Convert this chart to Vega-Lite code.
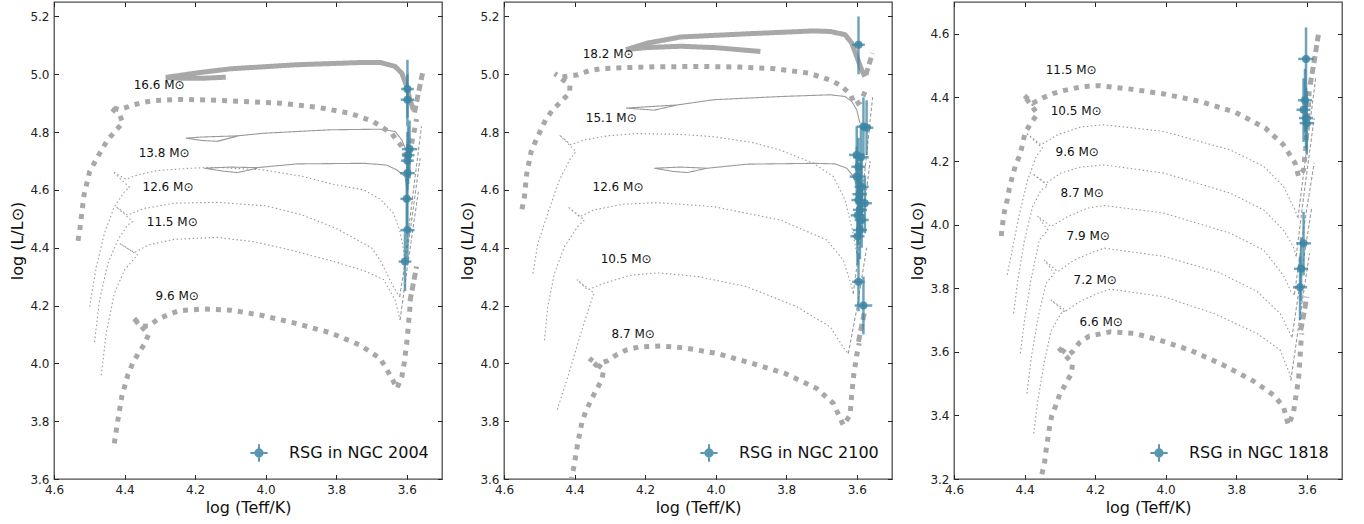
{
"$schema":"https://vega.github.io/schema/vega-lite/v6.json",
"padding":{"left":9,"top":0,"right":0,"bottom":0},
"datasets":{
"tracks":[
{"cl":"2004","seg":"16.6ms","ph":"ms","bold":1,"T":4.532,"L":4.424},{"cl":"2004","seg":"16.6ms","ph":"ms","bold":1,"T":4.527,"L":4.461},{"cl":"2004","seg":"16.6ms","ph":"ms","bold":1,"T":4.515,"L":4.582},{"cl":"2004","seg":"16.6ms","ph":"ms","bold":1,"T":4.499,"L":4.663},{"cl":"2004","seg":"16.6ms","ph":"ms","bold":1,"T":4.476,"L":4.715},{"cl":"2004","seg":"16.6ms","ph":"ms","bold":1,"T":4.449,"L":4.771},{"cl":"2004","seg":"16.6ms","ph":"ms","bold":1,"T":4.427,"L":4.802},{"cl":"2004","seg":"16.6ms","ph":"ms","bold":1,"T":4.405,"L":4.833},{"cl":"2004","seg":"16.6ms","ph":"ms","bold":1,"T":4.414,"L":4.86},{"cl":"2004","seg":"16.6ms","ph":"ms","bold":1,"T":4.441,"L":4.886},{"cl":"2004","seg":"16.6ms","ph":"ms","bold":1,"T":4.414,"L":4.877},{"cl":"2004","seg":"16.6ms","ph":"ms","bold":1,"T":4.382,"L":4.891},{"cl":"2004","seg":"16.6ms","ph":"ms","bold":1,"T":4.351,"L":4.902},{"cl":"2004","seg":"16.6ms","ph":"ms","bold":1,"T":4.316,"L":4.909},{"cl":"2004","seg":"16.6ms","ph":"ms","bold":1,"T":4.25,"L":4.913},{"cl":"2004","seg":"16.6ms","ph":"ms","bold":1,"T":4.184,"L":4.912},{"cl":"2004","seg":"16.6ms","ph":"ms","bold":1,"T":4.099,"L":4.908},{"cl":"2004","seg":"16.6ms","ph":"ms","bold":1,"T":3.958,"L":4.9},{"cl":"2004","seg":"16.6ms","ph":"ms","bold":1,"T":3.854,"L":4.886},{"cl":"2004","seg":"16.6ms","ph":"ms","bold":1,"T":3.76,"L":4.865},{"cl":"2004","seg":"16.6ms","ph":"ms","bold":1,"T":3.694,"L":4.836},{"cl":"2004","seg":"16.6ms","ph":"ms","bold":1,"T":3.642,"L":4.794},{"cl":"2004","seg":"16.6ms","ph":"ms","bold":1,"T":3.614,"L":4.75},{"cl":"2004","seg":"16.6ms","ph":"ms","bold":1,"T":3.6,"L":4.71},{"cl":"2004","seg":"16.6ms","ph":"ms","bold":1,"T":3.588,"L":4.75},{"cl":"2004","seg":"16.6ms","ph":"ms","bold":1,"T":3.579,"L":4.802},{"cl":"2004","seg":"16.6ms","ph":"ms","bold":1,"T":3.572,"L":4.845},
{"cl":"2004","seg":"16.6rsg","ph":"rsg","bold":1,"T":3.578,"L":4.868},{"cl":"2004","seg":"16.6rsg","ph":"rsg","bold":1,"T":3.566,"L":4.94},{"cl":"2004","seg":"16.6rsg","ph":"rsg","bold":1,"T":3.555,"L":5.005},
{"cl":"2004","seg":"16.6loop","ph":"loop","bold":1,"T":3.581,"L":4.877},{"cl":"2004","seg":"16.6loop","ph":"loop","bold":1,"T":3.591,"L":4.912},{"cl":"2004","seg":"16.6loop","ph":"loop","bold":1,"T":3.6,"L":4.958},{"cl":"2004","seg":"16.6loop","ph":"loop","bold":1,"T":3.614,"L":5.004},{"cl":"2004","seg":"16.6loop","ph":"loop","bold":1,"T":3.633,"L":5.027},{"cl":"2004","seg":"16.6loop","ph":"loop","bold":1,"T":3.675,"L":5.041},{"cl":"2004","seg":"16.6loop","ph":"loop","bold":1,"T":3.722,"L":5.041},{"cl":"2004","seg":"16.6loop","ph":"loop","bold":1,"T":3.911,"L":5.033},{"cl":"2004","seg":"16.6loop","ph":"loop","bold":1,"T":4.099,"L":5.019},{"cl":"2004","seg":"16.6loop","ph":"loop","bold":1,"T":4.193,"L":5.005},{"cl":"2004","seg":"16.6loop","ph":"loop","bold":1,"T":4.25,"L":4.995},{"cl":"2004","seg":"16.6loop","ph":"loop","bold":1,"T":4.283,"L":4.989},{"cl":"2004","seg":"16.6loop","ph":"loop","bold":1,"T":4.24,"L":4.986},{"cl":"2004","seg":"16.6loop","ph":"loop","bold":1,"T":4.18,"L":4.986},{"cl":"2004","seg":"16.6loop","ph":"loop","bold":1,"T":4.113,"L":4.99},
{"cl":"2004","seg":"13.8ms","ph":"ms","bold":0,"T":4.499,"L":4.196},{"cl":"2004","seg":"13.8ms","ph":"ms","bold":0,"T":4.48,"L":4.334},{"cl":"2004","seg":"13.8ms","ph":"ms","bold":0,"T":4.457,"L":4.45},{"cl":"2004","seg":"13.8ms","ph":"ms","bold":0,"T":4.429,"L":4.542},{"cl":"2004","seg":"13.8ms","ph":"ms","bold":0,"T":4.4,"L":4.594},{"cl":"2004","seg":"13.8ms","ph":"ms","bold":0,"T":4.386,"L":4.609},{"cl":"2004","seg":"13.8ms","ph":"ms","bold":0,"T":4.433,"L":4.663},{"cl":"2004","seg":"13.8ms","ph":"ms","bold":0,"T":4.396,"L":4.637},{"cl":"2004","seg":"13.8ms","ph":"ms","bold":0,"T":4.363,"L":4.652},{"cl":"2004","seg":"13.8ms","ph":"ms","bold":0,"T":4.306,"L":4.667},{"cl":"2004","seg":"13.8ms","ph":"ms","bold":0,"T":4.212,"L":4.675},{"cl":"2004","seg":"13.8ms","ph":"ms","bold":0,"T":4.137,"L":4.678},{"cl":"2004","seg":"13.8ms","ph":"ms","bold":0,"T":4.005,"L":4.669},{"cl":"2004","seg":"13.8ms","ph":"ms","bold":0,"T":3.9,"L":4.648},{"cl":"2004","seg":"13.8ms","ph":"ms","bold":0,"T":3.81,"L":4.62},{"cl":"2004","seg":"13.8ms","ph":"ms","bold":0,"T":3.722,"L":4.6},{"cl":"2004","seg":"13.8ms","ph":"ms","bold":0,"T":3.675,"L":4.568},{"cl":"2004","seg":"13.8ms","ph":"ms","bold":0,"T":3.638,"L":4.52},{"cl":"2004","seg":"13.8ms","ph":"ms","bold":0,"T":3.62,"L":4.46},{"cl":"2004","seg":"13.8ms","ph":"ms","bold":0,"T":3.61,"L":4.4},{"cl":"2004","seg":"13.8ms","ph":"ms","bold":0,"T":3.605,"L":4.36},
{"cl":"2004","seg":"13.8rsg","ph":"rsg","bold":0,"T":3.605,"L":4.36},{"cl":"2004","seg":"13.8rsg","ph":"rsg","bold":0,"T":3.585,"L":4.56},{"cl":"2004","seg":"13.8rsg","ph":"rsg","bold":0,"T":3.558,"L":4.82},
{"cl":"2004","seg":"13.8loop","ph":"loop","bold":0,"T":3.595,"L":4.7},{"cl":"2004","seg":"13.8loop","ph":"loop","bold":0,"T":3.602,"L":4.738},{"cl":"2004","seg":"13.8loop","ph":"loop","bold":0,"T":3.614,"L":4.773},{"cl":"2004","seg":"13.8loop","ph":"loop","bold":0,"T":3.633,"L":4.802},{"cl":"2004","seg":"13.8loop","ph":"loop","bold":0,"T":3.675,"L":4.81},{"cl":"2004","seg":"13.8loop","ph":"loop","bold":0,"T":3.817,"L":4.808},{"cl":"2004","seg":"13.8loop","ph":"loop","bold":0,"T":4.005,"L":4.796},{"cl":"2004","seg":"13.8loop","ph":"loop","bold":0,"T":4.08,"L":4.787},{"cl":"2004","seg":"13.8loop","ph":"loop","bold":0,"T":4.18,"L":4.783},{"cl":"2004","seg":"13.8loop","ph":"loop","bold":0,"T":4.226,"L":4.779},{"cl":"2004","seg":"13.8loop","ph":"loop","bold":0,"T":4.18,"L":4.771},{"cl":"2004","seg":"13.8loop","ph":"loop","bold":0,"T":4.137,"L":4.768},{"cl":"2004","seg":"13.8loop","ph":"loop","bold":0,"T":4.08,"L":4.786},
{"cl":"2004","seg":"12.6ms","ph":"ms","bold":0,"T":4.485,"L":4.074},{"cl":"2004","seg":"12.6ms","ph":"ms","bold":0,"T":4.471,"L":4.219},{"cl":"2004","seg":"12.6ms","ph":"ms","bold":0,"T":4.447,"L":4.346},{"cl":"2004","seg":"12.6ms","ph":"ms","bold":0,"T":4.419,"L":4.427},{"cl":"2004","seg":"12.6ms","ph":"ms","bold":0,"T":4.391,"L":4.479},{"cl":"2004","seg":"12.6ms","ph":"ms","bold":0,"T":4.377,"L":4.49},{"cl":"2004","seg":"12.6ms","ph":"ms","bold":0,"T":4.424,"L":4.542},{"cl":"2004","seg":"12.6ms","ph":"ms","bold":0,"T":4.391,"L":4.513},{"cl":"2004","seg":"12.6ms","ph":"ms","bold":0,"T":4.344,"L":4.536},{"cl":"2004","seg":"12.6ms","ph":"ms","bold":0,"T":4.259,"L":4.554},{"cl":"2004","seg":"12.6ms","ph":"ms","bold":0,"T":4.137,"L":4.557},{"cl":"2004","seg":"12.6ms","ph":"ms","bold":0,"T":4.0,"L":4.545},{"cl":"2004","seg":"12.6ms","ph":"ms","bold":0,"T":3.9,"L":4.515},{"cl":"2004","seg":"12.6ms","ph":"ms","bold":0,"T":3.8,"L":4.467},{"cl":"2004","seg":"12.6ms","ph":"ms","bold":0,"T":3.7,"L":4.4},{"cl":"2004","seg":"12.6ms","ph":"ms","bold":0,"T":3.675,"L":4.357},{"cl":"2004","seg":"12.6ms","ph":"ms","bold":0,"T":3.638,"L":4.265},{"cl":"2004","seg":"12.6ms","ph":"ms","bold":0,"T":3.62,"L":4.23},
{"cl":"2004","seg":"12.6rsg","ph":"rsg","bold":0,"T":3.62,"L":4.23},{"cl":"2004","seg":"12.6rsg","ph":"rsg","bold":0,"T":3.59,"L":4.46},{"cl":"2004","seg":"12.6rsg","ph":"rsg","bold":0,"T":3.562,"L":4.71},
{"cl":"2004","seg":"12.6loop","ph":"loop","bold":0,"T":3.6,"L":4.61},{"cl":"2004","seg":"12.6loop","ph":"loop","bold":0,"T":3.605,"L":4.646},{"cl":"2004","seg":"12.6loop","ph":"loop","bold":0,"T":3.628,"L":4.669},{"cl":"2004","seg":"12.6loop","ph":"loop","bold":0,"T":3.657,"L":4.686},{"cl":"2004","seg":"12.6loop","ph":"loop","bold":0,"T":3.722,"L":4.692},{"cl":"2004","seg":"12.6loop","ph":"loop","bold":0,"T":3.911,"L":4.69},{"cl":"2004","seg":"12.6loop","ph":"loop","bold":0,"T":4.024,"L":4.677},{"cl":"2004","seg":"12.6loop","ph":"loop","bold":0,"T":4.1,"L":4.679},{"cl":"2004","seg":"12.6loop","ph":"loop","bold":0,"T":4.174,"L":4.675},{"cl":"2004","seg":"12.6loop","ph":"loop","bold":0,"T":4.12,"L":4.665},{"cl":"2004","seg":"12.6loop","ph":"loop","bold":0,"T":4.08,"L":4.66},{"cl":"2004","seg":"12.6loop","ph":"loop","bold":0,"T":4.024,"L":4.675},
{"cl":"2004","seg":"11.5ms","ph":"ms","bold":0,"T":4.466,"L":3.959},{"cl":"2004","seg":"11.5ms","ph":"ms","bold":0,"T":4.452,"L":4.104},{"cl":"2004","seg":"11.5ms","ph":"ms","bold":0,"T":4.429,"L":4.242},{"cl":"2004","seg":"11.5ms","ph":"ms","bold":0,"T":4.4,"L":4.323},{"cl":"2004","seg":"11.5ms","ph":"ms","bold":0,"T":4.372,"L":4.363},{"cl":"2004","seg":"11.5ms","ph":"ms","bold":0,"T":4.363,"L":4.375},{"cl":"2004","seg":"11.5ms","ph":"ms","bold":0,"T":4.414,"L":4.415},{"cl":"2004","seg":"11.5ms","ph":"ms","bold":0,"T":4.372,"L":4.383},{"cl":"2004","seg":"11.5ms","ph":"ms","bold":0,"T":4.334,"L":4.409},{"cl":"2004","seg":"11.5ms","ph":"ms","bold":0,"T":4.259,"L":4.429},{"cl":"2004","seg":"11.5ms","ph":"ms","bold":0,"T":4.137,"L":4.436},{"cl":"2004","seg":"11.5ms","ph":"ms","bold":0,"T":4.03,"L":4.42},{"cl":"2004","seg":"11.5ms","ph":"ms","bold":0,"T":3.93,"L":4.392},{"cl":"2004","seg":"11.5ms","ph":"ms","bold":0,"T":3.8,"L":4.35},{"cl":"2004","seg":"11.5ms","ph":"ms","bold":0,"T":3.72,"L":4.32},{"cl":"2004","seg":"11.5ms","ph":"ms","bold":0,"T":3.666,"L":4.29},{"cl":"2004","seg":"11.5ms","ph":"ms","bold":0,"T":3.633,"L":4.219},{"cl":"2004","seg":"11.5ms","ph":"ms","bold":0,"T":3.619,"L":4.15},
{"cl":"2004","seg":"11.5rsg","ph":"rsg","bold":0,"T":3.619,"L":4.15},{"cl":"2004","seg":"11.5rsg","ph":"rsg","bold":0,"T":3.595,"L":4.36},{"cl":"2004","seg":"11.5rsg","ph":"rsg","bold":0,"T":3.567,"L":4.594},
{"cl":"2004","seg":"9.6ms","ph":"ms","bold":1,"T":4.429,"L":3.723},{"cl":"2004","seg":"9.6ms","ph":"ms","bold":1,"T":4.419,"L":3.803},{"cl":"2004","seg":"9.6ms","ph":"ms","bold":1,"T":4.408,"L":3.884},{"cl":"2004","seg":"9.6ms","ph":"ms","bold":1,"T":4.391,"L":3.959},{"cl":"2004","seg":"9.6ms","ph":"ms","bold":1,"T":4.377,"L":4.0},{"cl":"2004","seg":"9.6ms","ph":"ms","bold":1,"T":4.361,"L":4.034},{"cl":"2004","seg":"9.6ms","ph":"ms","bold":1,"T":4.344,"L":4.066},{"cl":"2004","seg":"9.6ms","ph":"ms","bold":1,"T":4.332,"L":4.1},{"cl":"2004","seg":"9.6ms","ph":"ms","bold":1,"T":4.377,"L":4.161},{"cl":"2004","seg":"9.6ms","ph":"ms","bold":1,"T":4.355,"L":4.128},{"cl":"2004","seg":"9.6ms","ph":"ms","bold":1,"T":4.332,"L":4.129},{"cl":"2004","seg":"9.6ms","ph":"ms","bold":1,"T":4.306,"L":4.152},{"cl":"2004","seg":"9.6ms","ph":"ms","bold":1,"T":4.273,"L":4.17},{"cl":"2004","seg":"9.6ms","ph":"ms","bold":1,"T":4.245,"L":4.182},{"cl":"2004","seg":"9.6ms","ph":"ms","bold":1,"T":4.179,"L":4.188},{"cl":"2004","seg":"9.6ms","ph":"ms","bold":1,"T":4.099,"L":4.184},{"cl":"2004","seg":"9.6ms","ph":"ms","bold":1,"T":4.014,"L":4.167},{"cl":"2004","seg":"9.6ms","ph":"ms","bold":1,"T":3.92,"L":4.14},{"cl":"2004","seg":"9.6ms","ph":"ms","bold":1,"T":3.817,"L":4.106},{"cl":"2004","seg":"9.6ms","ph":"ms","bold":1,"T":3.732,"L":4.063},{"cl":"2004","seg":"9.6ms","ph":"ms","bold":1,"T":3.675,"L":4.017},{"cl":"2004","seg":"9.6ms","ph":"ms","bold":1,"T":3.642,"L":3.948},{"cl":"2004","seg":"9.6ms","ph":"ms","bold":1,"T":3.628,"L":3.913},{"cl":"2004","seg":"9.6ms","ph":"ms","bold":1,"T":3.614,"L":3.953},{"cl":"2004","seg":"9.6ms","ph":"ms","bold":1,"T":3.608,"L":3.994},{"cl":"2004","seg":"9.6ms","ph":"ms","bold":1,"T":3.6,"L":4.069},{"cl":"2004","seg":"9.6ms","ph":"ms","bold":1,"T":3.594,"L":4.15},{"cl":"2004","seg":"9.6ms","ph":"ms","bold":1,"T":3.589,"L":4.219},
{"cl":"2004","seg":"9.6rsg","ph":"rsg","bold":1,"T":3.591,"L":4.215},{"cl":"2004","seg":"9.6rsg","ph":"rsg","bold":1,"T":3.572,"L":4.335},
{"cl":"2100","seg":"18.2ms","ph":"ms","bold":1,"T":4.549,"L":4.533},{"cl":"2100","seg":"18.2ms","ph":"ms","bold":1,"T":4.542,"L":4.577},{"cl":"2100","seg":"18.2ms","ph":"ms","bold":1,"T":4.536,"L":4.652},{"cl":"2100","seg":"18.2ms","ph":"ms","bold":1,"T":4.523,"L":4.733},{"cl":"2100","seg":"18.2ms","ph":"ms","bold":1,"T":4.509,"L":4.773},{"cl":"2100","seg":"18.2ms","ph":"ms","bold":1,"T":4.481,"L":4.845},{"cl":"2100","seg":"18.2ms","ph":"ms","bold":1,"T":4.462,"L":4.877},{"cl":"2100","seg":"18.2ms","ph":"ms","bold":1,"T":4.438,"L":4.906},{"cl":"2100","seg":"18.2ms","ph":"ms","bold":1,"T":4.414,"L":4.935},{"cl":"2100","seg":"18.2ms","ph":"ms","bold":1,"T":4.413,"L":4.963},{"cl":"2100","seg":"18.2ms","ph":"ms","bold":1,"T":4.456,"L":5.002},{"cl":"2100","seg":"18.2ms","ph":"ms","bold":1,"T":4.438,"L":4.99},{"cl":"2100","seg":"18.2ms","ph":"ms","bold":1,"T":4.391,"L":4.998},{"cl":"2100","seg":"18.2ms","ph":"ms","bold":1,"T":4.358,"L":5.013},{"cl":"2100","seg":"18.2ms","ph":"ms","bold":1,"T":4.325,"L":5.019},{"cl":"2100","seg":"18.2ms","ph":"ms","bold":1,"T":4.259,"L":5.023},{"cl":"2100","seg":"18.2ms","ph":"ms","bold":1,"T":4.165,"L":5.026},{"cl":"2100","seg":"18.2ms","ph":"ms","bold":1,"T":4.033,"L":5.027},{"cl":"2100","seg":"18.2ms","ph":"ms","bold":1,"T":3.93,"L":5.025},{"cl":"2100","seg":"18.2ms","ph":"ms","bold":1,"T":3.831,"L":5.019},{"cl":"2100","seg":"18.2ms","ph":"ms","bold":1,"T":3.736,"L":5.004},{"cl":"2100","seg":"18.2ms","ph":"ms","bold":1,"T":3.671,"L":4.978},{"cl":"2100","seg":"18.2ms","ph":"ms","bold":1,"T":3.642,"L":4.958},{"cl":"2100","seg":"18.2ms","ph":"ms","bold":1,"T":3.617,"L":4.929},{"cl":"2100","seg":"18.2ms","ph":"ms","bold":1,"T":3.605,"L":4.894},{"cl":"2100","seg":"18.2ms","ph":"ms","bold":1,"T":3.59,"L":4.905},{"cl":"2100","seg":"18.2ms","ph":"ms","bold":1,"T":3.58,"L":4.93},{"cl":"2100","seg":"18.2ms","ph":"ms","bold":1,"T":3.572,"L":4.952},
{"cl":"2100","seg":"18.2rsg","ph":"rsg","bold":1,"T":3.574,"L":4.998},{"cl":"2100","seg":"18.2rsg","ph":"rsg","bold":1,"T":3.565,"L":5.035},{"cl":"2100","seg":"18.2rsg","ph":"rsg","bold":1,"T":3.555,"L":5.073},
{"cl":"2100","seg":"18.2loop","ph":"loop","bold":1,"T":3.577,"L":4.992},{"cl":"2100","seg":"18.2loop","ph":"loop","bold":1,"T":3.586,"L":5.015},{"cl":"2100","seg":"18.2loop","ph":"loop","bold":1,"T":3.6,"L":5.061},{"cl":"2100","seg":"18.2loop","ph":"loop","bold":1,"T":3.614,"L":5.108},{"cl":"2100","seg":"18.2loop","ph":"loop","bold":1,"T":3.633,"L":5.137},{"cl":"2100","seg":"18.2loop","ph":"loop","bold":1,"T":3.675,"L":5.148},{"cl":"2100","seg":"18.2loop","ph":"loop","bold":1,"T":3.722,"L":5.15},{"cl":"2100","seg":"18.2loop","ph":"loop","bold":1,"T":3.911,"L":5.14},{"cl":"2100","seg":"18.2loop","ph":"loop","bold":1,"T":4.099,"L":5.129},{"cl":"2100","seg":"18.2loop","ph":"loop","bold":1,"T":4.193,"L":5.108},{"cl":"2100","seg":"18.2loop","ph":"loop","bold":1,"T":4.254,"L":5.085},{"cl":"2100","seg":"18.2loop","ph":"loop","bold":1,"T":4.2,"L":5.092},{"cl":"2100","seg":"18.2loop","ph":"loop","bold":1,"T":4.099,"L":5.097},{"cl":"2100","seg":"18.2loop","ph":"loop","bold":1,"T":4.0,"L":5.092},{"cl":"2100","seg":"18.2loop","ph":"loop","bold":1,"T":3.873,"L":5.079},
{"cl":"2100","seg":"15.1ms","ph":"ms","bold":0,"T":4.518,"L":4.311},{"cl":"2100","seg":"15.1ms","ph":"ms","bold":0,"T":4.504,"L":4.415},{"cl":"2100","seg":"15.1ms","ph":"ms","bold":0,"T":4.476,"L":4.519},{"cl":"2100","seg":"15.1ms","ph":"ms","bold":0,"T":4.443,"L":4.634},{"cl":"2100","seg":"15.1ms","ph":"ms","bold":0,"T":4.414,"L":4.704},{"cl":"2100","seg":"15.1ms","ph":"ms","bold":0,"T":4.396,"L":4.733},{"cl":"2100","seg":"15.1ms","ph":"ms","bold":0,"T":4.443,"L":4.79},{"cl":"2100","seg":"15.1ms","ph":"ms","bold":0,"T":4.41,"L":4.756},{"cl":"2100","seg":"15.1ms","ph":"ms","bold":0,"T":4.372,"L":4.773},{"cl":"2100","seg":"15.1ms","ph":"ms","bold":0,"T":4.306,"L":4.787},{"cl":"2100","seg":"15.1ms","ph":"ms","bold":0,"T":4.221,"L":4.795},{"cl":"2100","seg":"15.1ms","ph":"ms","bold":0,"T":4.1,"L":4.792},{"cl":"2100","seg":"15.1ms","ph":"ms","bold":0,"T":4.005,"L":4.784},{"cl":"2100","seg":"15.1ms","ph":"ms","bold":0,"T":3.9,"L":4.765},{"cl":"2100","seg":"15.1ms","ph":"ms","bold":0,"T":3.817,"L":4.738},{"cl":"2100","seg":"15.1ms","ph":"ms","bold":0,"T":3.722,"L":4.692},{"cl":"2100","seg":"15.1ms","ph":"ms","bold":0,"T":3.666,"L":4.646},{"cl":"2100","seg":"15.1ms","ph":"ms","bold":0,"T":3.633,"L":4.565},{"cl":"2100","seg":"15.1ms","ph":"ms","bold":0,"T":3.612,"L":4.46},{"cl":"2100","seg":"15.1ms","ph":"ms","bold":0,"T":3.6,"L":4.38},
{"cl":"2100","seg":"15.1rsg","ph":"rsg","bold":0,"T":3.6,"L":4.38},{"cl":"2100","seg":"15.1rsg","ph":"rsg","bold":0,"T":3.58,"L":4.63},{"cl":"2100","seg":"15.1rsg","ph":"rsg","bold":0,"T":3.555,"L":4.92},
{"cl":"2100","seg":"15.1loop","ph":"loop","bold":0,"T":3.591,"L":4.831},{"cl":"2100","seg":"15.1loop","ph":"loop","bold":0,"T":3.6,"L":4.877},{"cl":"2100","seg":"15.1loop","ph":"loop","bold":0,"T":3.614,"L":4.906},{"cl":"2100","seg":"15.1loop","ph":"loop","bold":0,"T":3.633,"L":4.923},{"cl":"2100","seg":"15.1loop","ph":"loop","bold":0,"T":3.675,"L":4.929},{"cl":"2100","seg":"15.1loop","ph":"loop","bold":0,"T":3.817,"L":4.923},{"cl":"2100","seg":"15.1loop","ph":"loop","bold":0,"T":4.005,"L":4.912},{"cl":"2100","seg":"15.1loop","ph":"loop","bold":0,"T":4.108,"L":4.894},{"cl":"2100","seg":"15.1loop","ph":"loop","bold":0,"T":4.2,"L":4.887},{"cl":"2100","seg":"15.1loop","ph":"loop","bold":0,"T":4.254,"L":4.883},{"cl":"2100","seg":"15.1loop","ph":"loop","bold":0,"T":4.174,"L":4.876},{"cl":"2100","seg":"15.1loop","ph":"loop","bold":0,"T":4.108,"L":4.894},
{"cl":"2100","seg":"12.6ms","ph":"ms","bold":0,"T":4.485,"L":4.08},{"cl":"2100","seg":"12.6ms","ph":"ms","bold":0,"T":4.476,"L":4.196},{"cl":"2100","seg":"12.6ms","ph":"ms","bold":0,"T":4.457,"L":4.311},{"cl":"2100","seg":"12.6ms","ph":"ms","bold":0,"T":4.429,"L":4.403},{"cl":"2100","seg":"12.6ms","ph":"ms","bold":0,"T":4.391,"L":4.473},{"cl":"2100","seg":"12.6ms","ph":"ms","bold":0,"T":4.372,"L":4.496},{"cl":"2100","seg":"12.6ms","ph":"ms","bold":0,"T":4.419,"L":4.542},{"cl":"2100","seg":"12.6ms","ph":"ms","bold":0,"T":4.386,"L":4.507},{"cl":"2100","seg":"12.6ms","ph":"ms","bold":0,"T":4.344,"L":4.531},{"cl":"2100","seg":"12.6ms","ph":"ms","bold":0,"T":4.259,"L":4.551},{"cl":"2100","seg":"12.6ms","ph":"ms","bold":0,"T":4.165,"L":4.556},{"cl":"2100","seg":"12.6ms","ph":"ms","bold":0,"T":4.005,"L":4.542},{"cl":"2100","seg":"12.6ms","ph":"ms","bold":0,"T":3.817,"L":4.496},{"cl":"2100","seg":"12.6ms","ph":"ms","bold":0,"T":3.685,"L":4.427},{"cl":"2100","seg":"12.6ms","ph":"ms","bold":0,"T":3.638,"L":4.357},{"cl":"2100","seg":"12.6ms","ph":"ms","bold":0,"T":3.614,"L":4.265},{"cl":"2100","seg":"12.6ms","ph":"ms","bold":0,"T":3.61,"L":4.24},
{"cl":"2100","seg":"12.6rsg","ph":"rsg","bold":0,"T":3.61,"L":4.24},{"cl":"2100","seg":"12.6rsg","ph":"rsg","bold":0,"T":3.585,"L":4.47},{"cl":"2100","seg":"12.6rsg","ph":"rsg","bold":0,"T":3.562,"L":4.7},
{"cl":"2100","seg":"12.6loop","ph":"loop","bold":0,"T":3.6,"L":4.611},{"cl":"2100","seg":"12.6loop","ph":"loop","bold":0,"T":3.609,"L":4.646},{"cl":"2100","seg":"12.6loop","ph":"loop","bold":0,"T":3.628,"L":4.675},{"cl":"2100","seg":"12.6loop","ph":"loop","bold":0,"T":3.661,"L":4.69},{"cl":"2100","seg":"12.6loop","ph":"loop","bold":0,"T":3.722,"L":4.692},{"cl":"2100","seg":"12.6loop","ph":"loop","bold":0,"T":3.911,"L":4.689},{"cl":"2100","seg":"12.6loop","ph":"loop","bold":0,"T":4.024,"L":4.675},{"cl":"2100","seg":"12.6loop","ph":"loop","bold":0,"T":4.1,"L":4.679},{"cl":"2100","seg":"12.6loop","ph":"loop","bold":0,"T":4.174,"L":4.675},{"cl":"2100","seg":"12.6loop","ph":"loop","bold":0,"T":4.12,"L":4.664},{"cl":"2100","seg":"12.6loop","ph":"loop","bold":0,"T":4.08,"L":4.66},{"cl":"2100","seg":"12.6loop","ph":"loop","bold":0,"T":4.024,"L":4.675},
{"cl":"2100","seg":"10.5ms","ph":"ms","bold":0,"T":4.449,"L":3.84},{"cl":"2100","seg":"10.5ms","ph":"ms","bold":0,"T":4.419,"L":3.953},{"cl":"2100","seg":"10.5ms","ph":"ms","bold":0,"T":4.382,"L":4.104},{"cl":"2100","seg":"10.5ms","ph":"ms","bold":0,"T":4.349,"L":4.23},{"cl":"2100","seg":"10.5ms","ph":"ms","bold":0,"T":4.344,"L":4.242},{"cl":"2100","seg":"10.5ms","ph":"ms","bold":0,"T":4.393,"L":4.29},{"cl":"2100","seg":"10.5ms","ph":"ms","bold":0,"T":4.363,"L":4.254},{"cl":"2100","seg":"10.5ms","ph":"ms","bold":0,"T":4.316,"L":4.277},{"cl":"2100","seg":"10.5ms","ph":"ms","bold":0,"T":4.241,"L":4.305},{"cl":"2100","seg":"10.5ms","ph":"ms","bold":0,"T":4.165,"L":4.313},{"cl":"2100","seg":"10.5ms","ph":"ms","bold":0,"T":4.05,"L":4.3},{"cl":"2100","seg":"10.5ms","ph":"ms","bold":0,"T":3.911,"L":4.265},{"cl":"2100","seg":"10.5ms","ph":"ms","bold":0,"T":3.77,"L":4.196},{"cl":"2100","seg":"10.5ms","ph":"ms","bold":0,"T":3.675,"L":4.126},{"cl":"2100","seg":"10.5ms","ph":"ms","bold":0,"T":3.633,"L":4.046},{"cl":"2100","seg":"10.5ms","ph":"ms","bold":0,"T":3.624,"L":4.034},
{"cl":"2100","seg":"10.5rsg","ph":"rsg","bold":0,"T":3.624,"L":4.034},{"cl":"2100","seg":"10.5rsg","ph":"rsg","bold":0,"T":3.598,"L":4.2},{"cl":"2100","seg":"10.5rsg","ph":"rsg","bold":0,"T":3.572,"L":4.4},
{"cl":"2100","seg":"8.7ms","ph":"ms","bold":1,"T":4.41,"L":3.59},{"cl":"2100","seg":"8.7ms","ph":"ms","bold":1,"T":4.402,"L":3.642},{"cl":"2100","seg":"8.7ms","ph":"ms","bold":1,"T":4.391,"L":3.723},{"cl":"2100","seg":"8.7ms","ph":"ms","bold":1,"T":4.379,"L":3.797},{"cl":"2100","seg":"8.7ms","ph":"ms","bold":1,"T":4.368,"L":3.835},{"cl":"2100","seg":"8.7ms","ph":"ms","bold":1,"T":4.353,"L":3.873},{"cl":"2100","seg":"8.7ms","ph":"ms","bold":1,"T":4.339,"L":3.907},{"cl":"2100","seg":"8.7ms","ph":"ms","bold":1,"T":4.323,"L":3.942},{"cl":"2100","seg":"8.7ms","ph":"ms","bold":1,"T":4.317,"L":3.979},{"cl":"2100","seg":"8.7ms","ph":"ms","bold":1,"T":4.358,"L":4.017},{"cl":"2100","seg":"8.7ms","ph":"ms","bold":1,"T":4.339,"L":3.994},{"cl":"2100","seg":"8.7ms","ph":"ms","bold":1,"T":4.305,"L":4.01},{"cl":"2100","seg":"8.7ms","ph":"ms","bold":1,"T":4.283,"L":4.028},{"cl":"2100","seg":"8.7ms","ph":"ms","bold":1,"T":4.254,"L":4.046},{"cl":"2100","seg":"8.7ms","ph":"ms","bold":1,"T":4.217,"L":4.057},{"cl":"2100","seg":"8.7ms","ph":"ms","bold":1,"T":4.156,"L":4.06},{"cl":"2100","seg":"8.7ms","ph":"ms","bold":1,"T":4.09,"L":4.054},{"cl":"2100","seg":"8.7ms","ph":"ms","bold":1,"T":3.995,"L":4.034},{"cl":"2100","seg":"8.7ms","ph":"ms","bold":1,"T":3.897,"L":4.0},{"cl":"2100","seg":"8.7ms","ph":"ms","bold":1,"T":3.803,"L":3.965},{"cl":"2100","seg":"8.7ms","ph":"ms","bold":1,"T":3.713,"L":3.913},{"cl":"2100","seg":"8.7ms","ph":"ms","bold":1,"T":3.666,"L":3.861},{"cl":"2100","seg":"8.7ms","ph":"ms","bold":1,"T":3.638,"L":3.786},{"cl":"2100","seg":"8.7ms","ph":"ms","bold":1,"T":3.619,"L":3.821},{"cl":"2100","seg":"8.7ms","ph":"ms","bold":1,"T":3.614,"L":3.896},{"cl":"2100","seg":"8.7ms","ph":"ms","bold":1,"T":3.608,"L":3.965},{"cl":"2100","seg":"8.7ms","ph":"ms","bold":1,"T":3.6,"L":4.028},{"cl":"2100","seg":"8.7ms","ph":"ms","bold":1,"T":3.593,"L":4.07},
{"cl":"2100","seg":"8.7rsg","ph":"rsg","bold":1,"T":3.595,"L":4.075},{"cl":"2100","seg":"8.7rsg","ph":"rsg","bold":1,"T":3.577,"L":4.184},
{"cl":"1818","seg":"11.5ms","ph":"ms","bold":1,"T":4.466,"L":3.964},{"cl":"1818","seg":"11.5ms","ph":"ms","bold":1,"T":4.462,"L":4.004},{"cl":"1818","seg":"11.5ms","ph":"ms","bold":1,"T":4.457,"L":4.041},{"cl":"1818","seg":"11.5ms","ph":"ms","bold":1,"T":4.449,"L":4.078},{"cl":"1818","seg":"11.5ms","ph":"ms","bold":1,"T":4.443,"L":4.115},{"cl":"1818","seg":"11.5ms","ph":"ms","bold":1,"T":4.435,"L":4.149},{"cl":"1818","seg":"11.5ms","ph":"ms","bold":1,"T":4.426,"L":4.185},{"cl":"1818","seg":"11.5ms","ph":"ms","bold":1,"T":4.413,"L":4.22},{"cl":"1818","seg":"11.5ms","ph":"ms","bold":1,"T":4.405,"L":4.255},{"cl":"1818","seg":"11.5ms","ph":"ms","bold":1,"T":4.399,"L":4.288},{"cl":"1818","seg":"11.5ms","ph":"ms","bold":1,"T":4.382,"L":4.319},{"cl":"1818","seg":"11.5ms","ph":"ms","bold":1,"T":4.363,"L":4.348},{"cl":"1818","seg":"11.5ms","ph":"ms","bold":1,"T":4.403,"L":4.408},{"cl":"1818","seg":"11.5ms","ph":"ms","bold":1,"T":4.377,"L":4.382},{"cl":"1818","seg":"11.5ms","ph":"ms","bold":1,"T":4.349,"L":4.398},{"cl":"1818","seg":"11.5ms","ph":"ms","bold":1,"T":4.32,"L":4.412},{"cl":"1818","seg":"11.5ms","ph":"ms","bold":1,"T":4.287,"L":4.422},{"cl":"1818","seg":"11.5ms","ph":"ms","bold":1,"T":4.254,"L":4.43},{"cl":"1818","seg":"11.5ms","ph":"ms","bold":1,"T":4.221,"L":4.435},{"cl":"1818","seg":"11.5ms","ph":"ms","bold":1,"T":4.188,"L":4.437},{"cl":"1818","seg":"11.5ms","ph":"ms","bold":1,"T":4.099,"L":4.426},{"cl":"1818","seg":"11.5ms","ph":"ms","bold":1,"T":4.005,"L":4.411},{"cl":"1818","seg":"11.5ms","ph":"ms","bold":1,"T":3.901,"L":4.387},{"cl":"1818","seg":"11.5ms","ph":"ms","bold":1,"T":3.802,"L":4.353},{"cl":"1818","seg":"11.5ms","ph":"ms","bold":1,"T":3.718,"L":4.304},{"cl":"1818","seg":"11.5ms","ph":"ms","bold":1,"T":3.666,"L":4.251},{"cl":"1818","seg":"11.5ms","ph":"ms","bold":1,"T":3.633,"L":4.193},{"cl":"1818","seg":"11.5ms","ph":"ms","bold":1,"T":3.623,"L":4.151},{"cl":"1818","seg":"11.5ms","ph":"ms","bold":1,"T":3.609,"L":4.172},{"cl":"1818","seg":"11.5ms","ph":"ms","bold":1,"T":3.603,"L":4.24},{"cl":"1818","seg":"11.5ms","ph":"ms","bold":1,"T":3.598,"L":4.32},{"cl":"1818","seg":"11.5ms","ph":"ms","bold":1,"T":3.593,"L":4.42},
{"cl":"1818","seg":"11.5rsg","ph":"rsg","bold":1,"T":3.59,"L":4.44},{"cl":"1818","seg":"11.5rsg","ph":"rsg","bold":1,"T":3.578,"L":4.52},{"cl":"1818","seg":"11.5rsg","ph":"rsg","bold":1,"T":3.567,"L":4.597},
{"cl":"1818","seg":"10.5ms","ph":"ms","bold":0,"T":4.449,"L":3.842},{"cl":"1818","seg":"10.5ms","ph":"ms","bold":0,"T":4.433,"L":3.931},{"cl":"1818","seg":"10.5ms","ph":"ms","bold":0,"T":4.414,"L":4.036},{"cl":"1818","seg":"10.5ms","ph":"ms","bold":0,"T":4.391,"L":4.141},{"cl":"1818","seg":"10.5ms","ph":"ms","bold":0,"T":4.367,"L":4.214},{"cl":"1818","seg":"10.5ms","ph":"ms","bold":0,"T":4.349,"L":4.241},{"cl":"1818","seg":"10.5ms","ph":"ms","bold":0,"T":4.396,"L":4.288},{"cl":"1818","seg":"10.5ms","ph":"ms","bold":0,"T":4.353,"L":4.251},{"cl":"1818","seg":"10.5ms","ph":"ms","bold":0,"T":4.306,"L":4.283},{"cl":"1818","seg":"10.5ms","ph":"ms","bold":0,"T":4.24,"L":4.307},{"cl":"1818","seg":"10.5ms","ph":"ms","bold":0,"T":4.174,"L":4.314},{"cl":"1818","seg":"10.5ms","ph":"ms","bold":0,"T":4.005,"L":4.293},{"cl":"1818","seg":"10.5ms","ph":"ms","bold":0,"T":3.817,"L":4.235},{"cl":"1818","seg":"10.5ms","ph":"ms","bold":0,"T":3.722,"L":4.183},{"cl":"1818","seg":"10.5ms","ph":"ms","bold":0,"T":3.666,"L":4.12},{"cl":"1818","seg":"10.5ms","ph":"ms","bold":0,"T":3.633,"L":4.046},{"cl":"1818","seg":"10.5ms","ph":"ms","bold":0,"T":3.625,"L":4.02},
{"cl":"1818","seg":"10.5rsg","ph":"rsg","bold":0,"T":3.625,"L":4.02},{"cl":"1818","seg":"10.5rsg","ph":"rsg","bold":0,"T":3.6,"L":4.24},{"cl":"1818","seg":"10.5rsg","ph":"rsg","bold":0,"T":3.574,"L":4.466},
{"cl":"1818","seg":"9.6ms","ph":"ms","bold":0,"T":4.431,"L":3.721},{"cl":"1818","seg":"9.6ms","ph":"ms","bold":0,"T":4.419,"L":3.826},{"cl":"1818","seg":"9.6ms","ph":"ms","bold":0,"T":4.4,"L":3.952},{"cl":"1818","seg":"9.6ms","ph":"ms","bold":0,"T":4.377,"L":4.057},{"cl":"1818","seg":"9.6ms","ph":"ms","bold":0,"T":4.353,"L":4.109},{"cl":"1818","seg":"9.6ms","ph":"ms","bold":0,"T":4.334,"L":4.122},{"cl":"1818","seg":"9.6ms","ph":"ms","bold":0,"T":4.377,"L":4.16},{"cl":"1818","seg":"9.6ms","ph":"ms","bold":0,"T":4.339,"L":4.13},{"cl":"1818","seg":"9.6ms","ph":"ms","bold":0,"T":4.297,"L":4.162},{"cl":"1818","seg":"9.6ms","ph":"ms","bold":0,"T":4.24,"L":4.181},{"cl":"1818","seg":"9.6ms","ph":"ms","bold":0,"T":4.174,"L":4.188},{"cl":"1818","seg":"9.6ms","ph":"ms","bold":0,"T":4.005,"L":4.162},{"cl":"1818","seg":"9.6ms","ph":"ms","bold":0,"T":3.817,"L":4.099},{"cl":"1818","seg":"9.6ms","ph":"ms","bold":0,"T":3.722,"L":4.046},{"cl":"1818","seg":"9.6ms","ph":"ms","bold":0,"T":3.666,"L":3.983},{"cl":"1818","seg":"9.6ms","ph":"ms","bold":0,"T":3.638,"L":3.931},{"cl":"1818","seg":"9.6ms","ph":"ms","bold":0,"T":3.63,"L":3.9},
{"cl":"1818","seg":"9.6rsg","ph":"rsg","bold":0,"T":3.63,"L":3.9},{"cl":"1818","seg":"9.6rsg","ph":"rsg","bold":0,"T":3.605,"L":4.12},{"cl":"1818","seg":"9.6rsg","ph":"rsg","bold":0,"T":3.579,"L":4.335},
{"cl":"1818","seg":"8.7ms","ph":"ms","bold":0,"T":4.412,"L":3.595},{"cl":"1818","seg":"8.7ms","ph":"ms","bold":0,"T":4.4,"L":3.7},{"cl":"1818","seg":"8.7ms","ph":"ms","bold":0,"T":4.382,"L":3.826},{"cl":"1818","seg":"8.7ms","ph":"ms","bold":0,"T":4.358,"L":3.952},{"cl":"1818","seg":"8.7ms","ph":"ms","bold":0,"T":4.334,"L":3.983},{"cl":"1818","seg":"8.7ms","ph":"ms","bold":0,"T":4.363,"L":4.027},{"cl":"1818","seg":"8.7ms","ph":"ms","bold":0,"T":4.325,"L":3.994},{"cl":"1818","seg":"8.7ms","ph":"ms","bold":0,"T":4.278,"L":4.025},{"cl":"1818","seg":"8.7ms","ph":"ms","bold":0,"T":4.221,"L":4.052},{"cl":"1818","seg":"8.7ms","ph":"ms","bold":0,"T":4.174,"L":4.06},{"cl":"1818","seg":"8.7ms","ph":"ms","bold":0,"T":4.005,"L":4.036},{"cl":"1818","seg":"8.7ms","ph":"ms","bold":0,"T":3.817,"L":3.973},{"cl":"1818","seg":"8.7ms","ph":"ms","bold":0,"T":3.722,"L":3.92},{"cl":"1818","seg":"8.7ms","ph":"ms","bold":0,"T":3.666,"L":3.84},{"cl":"1818","seg":"8.7ms","ph":"ms","bold":0,"T":3.645,"L":3.79},{"cl":"1818","seg":"8.7ms","ph":"ms","bold":0,"T":3.635,"L":3.78},
{"cl":"1818","seg":"8.7rsg","ph":"rsg","bold":0,"T":3.635,"L":3.78},{"cl":"1818","seg":"8.7rsg","ph":"rsg","bold":0,"T":3.607,"L":4.0},{"cl":"1818","seg":"8.7rsg","ph":"rsg","bold":0,"T":3.579,"L":4.193},
{"cl":"1818","seg":"7.9ms","ph":"ms","bold":0,"T":4.393,"L":3.469},{"cl":"1818","seg":"7.9ms","ph":"ms","bold":0,"T":4.382,"L":3.574},{"cl":"1818","seg":"7.9ms","ph":"ms","bold":0,"T":4.363,"L":3.7},{"cl":"1818","seg":"7.9ms","ph":"ms","bold":0,"T":4.339,"L":3.815},{"cl":"1818","seg":"7.9ms","ph":"ms","bold":0,"T":4.316,"L":3.847},{"cl":"1818","seg":"7.9ms","ph":"ms","bold":0,"T":4.344,"L":3.889},{"cl":"1818","seg":"7.9ms","ph":"ms","bold":0,"T":4.306,"L":3.852},{"cl":"1818","seg":"7.9ms","ph":"ms","bold":0,"T":4.259,"L":3.889},{"cl":"1818","seg":"7.9ms","ph":"ms","bold":0,"T":4.203,"L":3.915},{"cl":"1818","seg":"7.9ms","ph":"ms","bold":0,"T":4.174,"L":3.926},{"cl":"1818","seg":"7.9ms","ph":"ms","bold":0,"T":4.005,"L":3.9},{"cl":"1818","seg":"7.9ms","ph":"ms","bold":0,"T":3.85,"L":3.85},{"cl":"1818","seg":"7.9ms","ph":"ms","bold":0,"T":3.741,"L":3.79},{"cl":"1818","seg":"7.9ms","ph":"ms","bold":0,"T":3.675,"L":3.72},{"cl":"1818","seg":"7.9ms","ph":"ms","bold":0,"T":3.648,"L":3.66},{"cl":"1818","seg":"7.9ms","ph":"ms","bold":0,"T":3.642,"L":3.645},
{"cl":"1818","seg":"7.9rsg","ph":"rsg","bold":0,"T":3.642,"L":3.645},{"cl":"1818","seg":"7.9rsg","ph":"rsg","bold":0,"T":3.613,"L":3.86},{"cl":"1818","seg":"7.9rsg","ph":"rsg","bold":0,"T":3.586,"L":4.052},
{"cl":"1818","seg":"7.2ms","ph":"ms","bold":0,"T":4.374,"L":3.343},{"cl":"1818","seg":"7.2ms","ph":"ms","bold":0,"T":4.362,"L":3.45},{"cl":"1818","seg":"7.2ms","ph":"ms","bold":0,"T":4.344,"L":3.567},{"cl":"1818","seg":"7.2ms","ph":"ms","bold":0,"T":4.325,"L":3.665},{"cl":"1818","seg":"7.2ms","ph":"ms","bold":0,"T":4.297,"L":3.72},{"cl":"1818","seg":"7.2ms","ph":"ms","bold":0,"T":4.283,"L":3.73},{"cl":"1818","seg":"7.2ms","ph":"ms","bold":0,"T":4.325,"L":3.763},{"cl":"1818","seg":"7.2ms","ph":"ms","bold":0,"T":4.287,"L":3.725},{"cl":"1818","seg":"7.2ms","ph":"ms","bold":0,"T":4.245,"L":3.757},{"cl":"1818","seg":"7.2ms","ph":"ms","bold":0,"T":4.193,"L":3.784},{"cl":"1818","seg":"7.2ms","ph":"ms","bold":0,"T":4.156,"L":3.797},{"cl":"1818","seg":"7.2ms","ph":"ms","bold":0,"T":4.005,"L":3.773},{"cl":"1818","seg":"7.2ms","ph":"ms","bold":0,"T":3.864,"L":3.721},{"cl":"1818","seg":"7.2ms","ph":"ms","bold":0,"T":3.741,"L":3.658},{"cl":"1818","seg":"7.2ms","ph":"ms","bold":0,"T":3.675,"L":3.605},{"cl":"1818","seg":"7.2ms","ph":"ms","bold":0,"T":3.648,"L":3.53},{"cl":"1818","seg":"7.2ms","ph":"ms","bold":0,"T":3.645,"L":3.51},
{"cl":"1818","seg":"7.2rsg","ph":"rsg","bold":0,"T":3.645,"L":3.51},{"cl":"1818","seg":"7.2rsg","ph":"rsg","bold":0,"T":3.618,"L":3.72},{"cl":"1818","seg":"7.2rsg","ph":"rsg","bold":0,"T":3.592,"L":3.91},
{"cl":"1818","seg":"6.6ms","ph":"ms","bold":1,"T":4.351,"L":3.215},{"cl":"1818","seg":"6.6ms","ph":"ms","bold":1,"T":4.343,"L":3.254},{"cl":"1818","seg":"6.6ms","ph":"ms","bold":1,"T":4.339,"L":3.29},{"cl":"1818","seg":"6.6ms","ph":"ms","bold":1,"T":4.334,"L":3.327},{"cl":"1818","seg":"6.6ms","ph":"ms","bold":1,"T":4.329,"L":3.364},{"cl":"1818","seg":"6.6ms","ph":"ms","bold":1,"T":4.323,"L":3.398},{"cl":"1818","seg":"6.6ms","ph":"ms","bold":1,"T":4.311,"L":3.432},{"cl":"1818","seg":"6.6ms","ph":"ms","bold":1,"T":4.3,"L":3.467},{"cl":"1818","seg":"6.6ms","ph":"ms","bold":1,"T":4.283,"L":3.5},{"cl":"1818","seg":"6.6ms","ph":"ms","bold":1,"T":4.267,"L":3.532},{"cl":"1818","seg":"6.6ms","ph":"ms","bold":1,"T":4.264,"L":3.563},{"cl":"1818","seg":"6.6ms","ph":"ms","bold":1,"T":4.306,"L":3.616},{"cl":"1818","seg":"6.6ms","ph":"ms","bold":1,"T":4.275,"L":3.59},{"cl":"1818","seg":"6.6ms","ph":"ms","bold":1,"T":4.264,"L":3.6},{"cl":"1818","seg":"6.6ms","ph":"ms","bold":1,"T":4.245,"L":3.628},{"cl":"1818","seg":"6.6ms","ph":"ms","bold":1,"T":4.217,"L":3.649},{"cl":"1818","seg":"6.6ms","ph":"ms","bold":1,"T":4.156,"L":3.663},{"cl":"1818","seg":"6.6ms","ph":"ms","bold":1,"T":4.09,"L":3.658},{"cl":"1818","seg":"6.6ms","ph":"ms","bold":1,"T":4.024,"L":3.639},{"cl":"1818","seg":"6.6ms","ph":"ms","bold":1,"T":3.93,"L":3.605},{"cl":"1818","seg":"6.6ms","ph":"ms","bold":1,"T":3.836,"L":3.558},{"cl":"1818","seg":"6.6ms","ph":"ms","bold":1,"T":3.751,"L":3.508},{"cl":"1818","seg":"6.6ms","ph":"ms","bold":1,"T":3.694,"L":3.464},{"cl":"1818","seg":"6.6ms","ph":"ms","bold":1,"T":3.666,"L":3.427},{"cl":"1818","seg":"6.6ms","ph":"ms","bold":1,"T":3.652,"L":3.369},{"cl":"1818","seg":"6.6ms","ph":"ms","bold":1,"T":3.638,"L":3.406},{"cl":"1818","seg":"6.6ms","ph":"ms","bold":1,"T":3.633,"L":3.443},{"cl":"1818","seg":"6.6ms","ph":"ms","bold":1,"T":3.628,"L":3.479},{"cl":"1818","seg":"6.6ms","ph":"ms","bold":1,"T":3.623,"L":3.516},{"cl":"1818","seg":"6.6ms","ph":"ms","bold":1,"T":3.619,"L":3.584},{"cl":"1818","seg":"6.6ms","ph":"ms","bold":1,"T":3.617,"L":3.621},{"cl":"1818","seg":"6.6ms","ph":"ms","bold":1,"T":3.614,"L":3.658},
{"cl":"1818","seg":"6.6rsg","ph":"rsg","bold":1,"T":3.617,"L":3.668},{"cl":"1818","seg":"6.6rsg","ph":"rsg","bold":1,"T":3.608,"L":3.72},{"cl":"1818","seg":"6.6rsg","ph":"rsg","bold":1,"T":3.6,"L":3.773}
],
"stars":[
{"cl":"2004","grp":"RSG in NGC 2004","T":3.598,"L":4.949,"Tlo":3.58,"Thi":3.616,"Llo":4.85,"Lhi":5.05},
{"cl":"2004","grp":"RSG in NGC 2004","T":3.598,"L":4.912,"Tlo":3.579,"Thi":3.617,"Llo":4.82,"Lhi":5.0},
{"cl":"2004","grp":"RSG in NGC 2004","T":3.592,"L":4.741,"Tlo":3.57,"Thi":3.614,"Llo":4.64,"Lhi":4.84},
{"cl":"2004","grp":"RSG in NGC 2004","T":3.596,"L":4.72,"Tlo":3.578,"Thi":3.614,"Llo":4.62,"Lhi":4.82},
{"cl":"2004","grp":"RSG in NGC 2004","T":3.598,"L":4.701,"Tlo":3.58,"Thi":3.616,"Llo":4.6,"Lhi":4.8},
{"cl":"2004","grp":"RSG in NGC 2004","T":3.598,"L":4.658,"Tlo":3.577,"Thi":3.619,"Llo":4.56,"Lhi":4.76},
{"cl":"2004","grp":"RSG in NGC 2004","T":3.6,"L":4.569,"Tlo":3.582,"Thi":3.618,"Llo":4.47,"Lhi":4.67},
{"cl":"2004","grp":"RSG in NGC 2004","T":3.598,"L":4.461,"Tlo":3.578,"Thi":3.618,"Llo":4.36,"Lhi":4.56},
{"cl":"2004","grp":"RSG in NGC 2004","T":3.605,"L":4.352,"Tlo":3.587,"Thi":3.623,"Llo":4.25,"Lhi":4.45},
{"cl":"2100","grp":"RSG in NGC 2100","T":3.595,"L":5.102,"Tlo":3.577,"Thi":3.613,"Llo":5.0,"Lhi":5.2},
{"cl":"2100","grp":"RSG in NGC 2100","T":3.581,"L":4.819,"Tlo":3.56,"Thi":3.6,"Llo":4.72,"Lhi":4.92},
{"cl":"2100","grp":"RSG in NGC 2100","T":3.572,"L":4.815,"Tlo":3.553,"Thi":3.591,"Llo":4.72,"Lhi":4.91},
{"cl":"2100","grp":"RSG in NGC 2100","T":3.6,"L":4.721,"Tlo":3.578,"Thi":3.622,"Llo":4.62,"Lhi":4.82},
{"cl":"2100","grp":"RSG in NGC 2100","T":3.588,"L":4.713,"Tlo":3.566,"Thi":3.61,"Llo":4.61,"Lhi":4.81},
{"cl":"2100","grp":"RSG in NGC 2100","T":3.595,"L":4.68,"Tlo":3.575,"Thi":3.615,"Llo":4.58,"Lhi":4.78},
{"cl":"2100","grp":"RSG in NGC 2100","T":3.6,"L":4.646,"Tlo":3.58,"Thi":3.62,"Llo":4.55,"Lhi":4.75},
{"cl":"2100","grp":"RSG in NGC 2100","T":3.586,"L":4.611,"Tlo":3.566,"Thi":3.606,"Llo":4.51,"Lhi":4.71},
{"cl":"2100","grp":"RSG in NGC 2100","T":3.592,"L":4.585,"Tlo":3.572,"Thi":3.612,"Llo":4.49,"Lhi":4.68},
{"cl":"2100","grp":"RSG in NGC 2100","T":3.595,"L":4.565,"Tlo":3.575,"Thi":3.615,"Llo":4.47,"Lhi":4.66},
{"cl":"2100","grp":"RSG in NGC 2100","T":3.577,"L":4.554,"Tlo":3.557,"Thi":3.597,"Llo":4.45,"Lhi":4.65},
{"cl":"2100","grp":"RSG in NGC 2100","T":3.591,"L":4.531,"Tlo":3.571,"Thi":3.611,"Llo":4.43,"Lhi":4.63},
{"cl":"2100","grp":"RSG in NGC 2100","T":3.597,"L":4.512,"Tlo":3.577,"Thi":3.617,"Llo":4.41,"Lhi":4.61},
{"cl":"2100","grp":"RSG in NGC 2100","T":3.586,"L":4.496,"Tlo":3.566,"Thi":3.606,"Llo":4.4,"Lhi":4.6},
{"cl":"2100","grp":"RSG in NGC 2100","T":3.591,"L":4.461,"Tlo":3.571,"Thi":3.611,"Llo":4.36,"Lhi":4.56},
{"cl":"2100","grp":"RSG in NGC 2100","T":3.598,"L":4.44,"Tlo":3.578,"Thi":3.618,"Llo":4.34,"Lhi":4.54},
{"cl":"2100","grp":"RSG in NGC 2100","T":3.595,"L":4.282,"Tlo":3.577,"Thi":3.613,"Llo":4.18,"Lhi":4.38},
{"cl":"2100","grp":"RSG in NGC 2100","T":3.581,"L":4.2,"Tlo":3.556,"Thi":3.606,"Llo":4.1,"Lhi":4.3},
{"cl":"1818","grp":"RSG in NGC 1818","T":3.602,"L":4.521,"Tlo":3.58,"Thi":3.624,"Llo":4.42,"Lhi":4.62},
{"cl":"1818","grp":"RSG in NGC 1818","T":3.605,"L":4.391,"Tlo":3.585,"Thi":3.625,"Llo":4.29,"Lhi":4.49},
{"cl":"1818","grp":"RSG in NGC 1818","T":3.609,"L":4.361,"Tlo":3.589,"Thi":3.629,"Llo":4.26,"Lhi":4.46},
{"cl":"1818","grp":"RSG in NGC 1818","T":3.602,"L":4.335,"Tlo":3.582,"Thi":3.622,"Llo":4.24,"Lhi":4.43},
{"cl":"1818","grp":"RSG in NGC 1818","T":3.6,"L":4.319,"Tlo":3.58,"Thi":3.62,"Llo":4.22,"Lhi":4.42},
{"cl":"1818","grp":"RSG in NGC 1818","T":3.609,"L":3.941,"Tlo":3.588,"Thi":3.63,"Llo":3.84,"Lhi":4.04},
{"cl":"1818","grp":"RSG in NGC 1818","T":3.616,"L":3.861,"Tlo":3.596,"Thi":3.636,"Llo":3.76,"Lhi":3.96},
{"cl":"1818","grp":"RSG in NGC 1818","T":3.619,"L":3.803,"Tlo":3.599,"Thi":3.639,"Llo":3.7,"Lhi":3.9}
],
"labels":[
{"cl":"2004","T":4.374,"L":4.963,"txt":"16.6 M\u2299"},{"cl":"2004","T":4.36,"L":4.728,"txt":"13.8 M\u2299"},{"cl":"2004","T":4.349,"L":4.61,"txt":"12.6 M\u2299"},{"cl":"2004","T":4.337,"L":4.489,"txt":"11.5 M\u2299"},{"cl":"2004","T":4.312,"L":4.232,"txt":"9.6 M\u2299"},
{"cl":"2100","T":4.377,"L":5.071,"txt":"18.2 M\u2299"},{"cl":"2100","T":4.368,"L":4.849,"txt":"15.1 M\u2299"},{"cl":"2100","T":4.349,"L":4.61,"txt":"12.6 M\u2299"},{"cl":"2100","T":4.326,"L":4.361,"txt":"10.5 M\u2299"},{"cl":"2100","T":4.295,"L":4.101,"txt":"8.7 M\u2299"},
{"cl":"1818","T":4.34,"L":4.487,"txt":"11.5 M\u2299"},{"cl":"1818","T":4.326,"L":4.358,"txt":"10.5 M\u2299"},{"cl":"1818","T":4.312,"L":4.229,"txt":"9.6 M\u2299"},{"cl":"1818","T":4.298,"L":4.099,"txt":"8.7 M\u2299"},{"cl":"1818","T":4.281,"L":3.964,"txt":"7.9 M\u2299"},{"cl":"1818","T":4.261,"L":3.825,"txt":"7.2 M\u2299"},{"cl":"1818","T":4.244,"L":3.693,"txt":"6.6 M\u2299"}
]
},
"spacing":62,
"bounds":"flush",
"resolve":{"scale":{"color":"independent"},"legend":{"color":"independent"}},
"hconcat":[
{"width":388,"height":477,
"resolve":{"scale":{"strokeDash":"independent"},"axis":{"x":"independent","y":"independent"}},
"layer":[
{"data":{"name":"tracks"},"transform":[{"filter":"datum.cl == '2004' && datum.bold == 0"}],
"mark":{"type":"line","color":"#9a9a9a","strokeWidth":1.1,"clip":true},
"encoding":{
"x":{"field":"T","type":"quantitative","scale":{"domain":[3.5,4.6],"reverse":true,"nice":false,"zero":false},"axis":{"orient":"bottom","values":[4.6,4.4,4.2,4.0,3.8,3.6],"format":".1f","title":"log (Teff/K)"}},
"y":{"field":"L","type":"quantitative","scale":{"domain":[3.6,5.25],"nice":false,"zero":false},"axis":{"orient":"left","values":[3.6,3.8,4.0,4.2,4.4,4.6,4.8,5.0,5.2],"format":".1f","title":"log (L/L\u2299)"}},
"detail":{"field":"seg"},"order":{"value":null},
"strokeDash":{"field":"ph","type":"nominal","scale":{"domain":["ms","rsg","loop"],"range":[[1.5,2.5],[3.5,2],[1,0]]},"legend":null}}},
{"data":{"name":"tracks"},"transform":[{"filter":"datum.cl == '2004' && datum.bold == 1"}],
"mark":{"type":"line","color":"#a8a8a8","strokeWidth":5,"clip":true,"strokeCap":"butt"},
"encoding":{
"x":{"field":"T","type":"quantitative","scale":{"domain":[3.5,4.6],"reverse":true,"nice":false,"zero":false},"axis":{"orient":"top","values":[4.6,4.4,4.2,4.0,3.8,3.6],"labels":false,"title":null}},
"y":{"field":"L","type":"quantitative","scale":{"domain":[3.6,5.25],"nice":false,"zero":false},"axis":{"orient":"right","values":[3.6,3.8,4.0,4.2,4.4,4.6,4.8,5.0,5.2],"labels":false,"title":null}},
"detail":{"field":"seg"},"order":{"value":null},
"strokeDash":{"field":"ph","type":"nominal","scale":{"domain":["ms","rsg","loop"],"range":[[5,6],[7,4],[1,0]]},"legend":null}}},
{"data":{"name":"labels"},"transform":[{"filter":"datum.cl == '2004'"}],
"mark":{"type":"text","align":"left","baseline":"middle","fontSize":12,"color":"#111"},
"encoding":{"x":{"field":"T","type":"quantitative","axis":null},"y":{"field":"L","type":"quantitative","axis":null},"text":{"field":"txt"}}},
{"data":{"name":"stars"},"transform":[{"filter":"datum.cl == '2004'"}],
"mark":{"type":"rule","color":"#3d85a3","strokeWidth":2.5,"opacity":0.75},
"encoding":{"x":{"field":"T","type":"quantitative","axis":null},"y":{"field":"Llo","type":"quantitative","axis":null},"y2":{"field":"Lhi"}}},
{"data":{"name":"stars"},"transform":[{"filter":"datum.cl == '2004'"}],
"mark":{"type":"rule","color":"#3d85a3","strokeWidth":2.5,"opacity":0.75},
"encoding":{"x":{"field":"Tlo","type":"quantitative","axis":null},"x2":{"field":"Thi"},"y":{"field":"L","type":"quantitative","axis":null}}},
{"data":{"name":"stars"},"transform":[{"filter":"datum.cl == '2004'"}],
"mark":{"type":"point","filled":true,"shape":"circle","size":65,"opacity":0.85},
"encoding":{"x":{"field":"T","type":"quantitative","axis":null},"y":{"field":"L","type":"quantitative","axis":null},
"color":{"field":"grp","type":"nominal","scale":{"range":["#3d85a3"]},"legend":{"orient":"bottom-right","title":null,"offset":13,"labelFontSize":16,"labelColor":"#111","labelOffset":20,"symbolType":"M-1,0H1M0,-1V1M0.42,0A0.42,0.42,0,1,1,-0.42,0A0.42,0.42,0,1,1,0.42,0","symbolSize":300,"symbolStrokeWidth":2,"symbolStrokeColor":"#3d85a3","symbolFillColor":"#3d85a3","symbolOpacity":0.85}}}}
]},
{"width":388,"height":477,
"resolve":{"scale":{"strokeDash":"independent"},"axis":{"x":"independent","y":"independent"}},
"layer":[
{"data":{"name":"tracks"},"transform":[{"filter":"datum.cl == '2100' && datum.bold == 0"}],
"mark":{"type":"line","color":"#9a9a9a","strokeWidth":1.1,"clip":true},
"encoding":{
"x":{"field":"T","type":"quantitative","scale":{"domain":[3.5,4.6],"reverse":true,"nice":false,"zero":false},"axis":{"orient":"bottom","values":[4.6,4.4,4.2,4.0,3.8,3.6],"format":".1f","title":"log (Teff/K)"}},
"y":{"field":"L","type":"quantitative","scale":{"domain":[3.6,5.25],"nice":false,"zero":false},"axis":{"orient":"left","values":[3.6,3.8,4.0,4.2,4.4,4.6,4.8,5.0,5.2],"format":".1f","title":"log (L/L\u2299)"}},
"detail":{"field":"seg"},"order":{"value":null},
"strokeDash":{"field":"ph","type":"nominal","scale":{"domain":["ms","rsg","loop"],"range":[[1.5,2.5],[3.5,2],[1,0]]},"legend":null}}},
{"data":{"name":"tracks"},"transform":[{"filter":"datum.cl == '2100' && datum.bold == 1"}],
"mark":{"type":"line","color":"#a8a8a8","strokeWidth":5,"clip":true,"strokeCap":"butt"},
"encoding":{
"x":{"field":"T","type":"quantitative","scale":{"domain":[3.5,4.6],"reverse":true,"nice":false,"zero":false},"axis":{"orient":"top","values":[4.6,4.4,4.2,4.0,3.8,3.6],"labels":false,"title":null}},
"y":{"field":"L","type":"quantitative","scale":{"domain":[3.6,5.25],"nice":false,"zero":false},"axis":{"orient":"right","values":[3.6,3.8,4.0,4.2,4.4,4.6,4.8,5.0,5.2],"labels":false,"title":null}},
"detail":{"field":"seg"},"order":{"value":null},
"strokeDash":{"field":"ph","type":"nominal","scale":{"domain":["ms","rsg","loop"],"range":[[5,6],[7,4],[1,0]]},"legend":null}}},
{"data":{"name":"labels"},"transform":[{"filter":"datum.cl == '2100'"}],
"mark":{"type":"text","align":"left","baseline":"middle","fontSize":12,"color":"#111"},
"encoding":{"x":{"field":"T","type":"quantitative","axis":null},"y":{"field":"L","type":"quantitative","axis":null},"text":{"field":"txt"}}},
{"data":{"name":"stars"},"transform":[{"filter":"datum.cl == '2100'"}],
"mark":{"type":"rule","color":"#3d85a3","strokeWidth":2.5,"opacity":0.75},
"encoding":{"x":{"field":"T","type":"quantitative","axis":null},"y":{"field":"Llo","type":"quantitative","axis":null},"y2":{"field":"Lhi"}}},
{"data":{"name":"stars"},"transform":[{"filter":"datum.cl == '2100'"}],
"mark":{"type":"rule","color":"#3d85a3","strokeWidth":2.5,"opacity":0.75},
"encoding":{"x":{"field":"Tlo","type":"quantitative","axis":null},"x2":{"field":"Thi"},"y":{"field":"L","type":"quantitative","axis":null}}},
{"data":{"name":"stars"},"transform":[{"filter":"datum.cl == '2100'"}],
"mark":{"type":"point","filled":true,"shape":"circle","size":65,"opacity":0.85},
"encoding":{"x":{"field":"T","type":"quantitative","axis":null},"y":{"field":"L","type":"quantitative","axis":null},
"color":{"field":"grp","type":"nominal","scale":{"range":["#3d85a3"]},"legend":{"orient":"bottom-right","title":null,"offset":13,"labelFontSize":16,"labelColor":"#111","labelOffset":20,"symbolType":"M-1,0H1M0,-1V1M0.42,0A0.42,0.42,0,1,1,-0.42,0A0.42,0.42,0,1,1,0.42,0","symbolSize":300,"symbolStrokeWidth":2,"symbolStrokeColor":"#3d85a3","symbolFillColor":"#3d85a3","symbolOpacity":0.85}}}}
]},
{"width":388,"height":477,
"resolve":{"scale":{"strokeDash":"independent"},"axis":{"x":"independent","y":"independent"}},
"layer":[
{"data":{"name":"tracks"},"transform":[{"filter":"datum.cl == '1818' && datum.bold == 0"}],
"mark":{"type":"line","color":"#9a9a9a","strokeWidth":1.1,"clip":true},
"encoding":{
"x":{"field":"T","type":"quantitative","scale":{"domain":[3.5,4.6],"reverse":true,"nice":false,"zero":false},"axis":{"orient":"bottom","values":[4.6,4.4,4.2,4.0,3.8,3.6],"format":".1f","title":"log (Teff/K)"}},
"y":{"field":"L","type":"quantitative","scale":{"domain":[3.2,4.7],"nice":false,"zero":false},"axis":{"orient":"left","values":[3.2,3.4,3.6,3.8,4.0,4.2,4.4,4.6],"format":".1f","title":"log (L/L\u2299)"}},
"detail":{"field":"seg"},"order":{"value":null},
"strokeDash":{"field":"ph","type":"nominal","scale":{"domain":["ms","rsg","loop"],"range":[[1.5,2.5],[3.5,2],[1,0]]},"legend":null}}},
{"data":{"name":"tracks"},"transform":[{"filter":"datum.cl == '1818' && datum.bold == 1"}],
"mark":{"type":"line","color":"#a8a8a8","strokeWidth":5,"clip":true,"strokeCap":"butt"},
"encoding":{
"x":{"field":"T","type":"quantitative","scale":{"domain":[3.5,4.6],"reverse":true,"nice":false,"zero":false},"axis":{"orient":"top","values":[4.6,4.4,4.2,4.0,3.8,3.6],"labels":false,"title":null}},
"y":{"field":"L","type":"quantitative","scale":{"domain":[3.2,4.7],"nice":false,"zero":false},"axis":{"orient":"right","values":[3.2,3.4,3.6,3.8,4.0,4.2,4.4,4.6],"labels":false,"title":null}},
"detail":{"field":"seg"},"order":{"value":null},
"strokeDash":{"field":"ph","type":"nominal","scale":{"domain":["ms","rsg","loop"],"range":[[5,6],[7,4],[1,0]]},"legend":null}}},
{"data":{"name":"labels"},"transform":[{"filter":"datum.cl == '1818'"}],
"mark":{"type":"text","align":"left","baseline":"middle","fontSize":12,"color":"#111"},
"encoding":{"x":{"field":"T","type":"quantitative","axis":null},"y":{"field":"L","type":"quantitative","axis":null},"text":{"field":"txt"}}},
{"data":{"name":"stars"},"transform":[{"filter":"datum.cl == '1818'"}],
"mark":{"type":"rule","color":"#3d85a3","strokeWidth":2.5,"opacity":0.75},
"encoding":{"x":{"field":"T","type":"quantitative","axis":null},"y":{"field":"Llo","type":"quantitative","axis":null},"y2":{"field":"Lhi"}}},
{"data":{"name":"stars"},"transform":[{"filter":"datum.cl == '1818'"}],
"mark":{"type":"rule","color":"#3d85a3","strokeWidth":2.5,"opacity":0.75},
"encoding":{"x":{"field":"Tlo","type":"quantitative","axis":null},"x2":{"field":"Thi"},"y":{"field":"L","type":"quantitative","axis":null}}},
{"data":{"name":"stars"},"transform":[{"filter":"datum.cl == '1818'"}],
"mark":{"type":"point","filled":true,"shape":"circle","size":65,"opacity":0.85},
"encoding":{"x":{"field":"T","type":"quantitative","axis":null},"y":{"field":"L","type":"quantitative","axis":null},
"color":{"field":"grp","type":"nominal","scale":{"range":["#3d85a3"]},"legend":{"orient":"bottom-right","title":null,"offset":13,"labelFontSize":16,"labelColor":"#111","labelOffset":20,"symbolType":"M-1,0H1M0,-1V1M0.42,0A0.42,0.42,0,1,1,-0.42,0A0.42,0.42,0,1,1,0.42,0","symbolSize":300,"symbolStrokeWidth":2,"symbolStrokeColor":"#3d85a3","symbolFillColor":"#3d85a3","symbolOpacity":0.85}}}}
]}
],
"config":{
"font":"DejaVu Sans",
"view":{"stroke":"#4d4d4d","strokeWidth":1.3},
"axis":{"grid":false,"domain":false,"tickSize":-4.5,"tickColor":"#222","tickWidth":1,"labelPadding":9.5,"labelFontSize":12,"labelColor":"#222","titleFontSize":16,"titleFontWeight":"normal","titleColor":"#111","titlePadding":4,"labelFlush":false},
"legend":{"labelFont":"DejaVu Sans"}
}
}
